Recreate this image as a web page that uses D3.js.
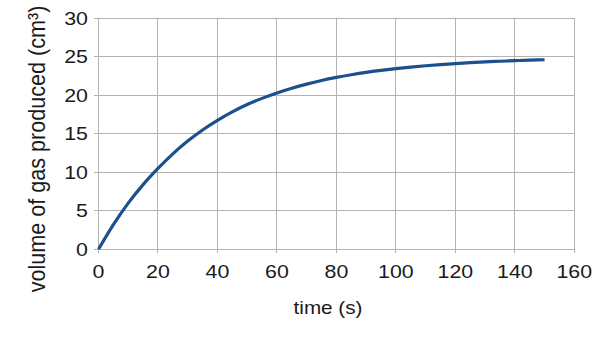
<!DOCTYPE html>
<html>
<head>
<meta charset="utf-8">
<script src="https://cdn.jsdelivr.net/npm/d3@7"></script>
<style>
  html, body { margin: 0; padding: 0; background: #ffffff; }
  svg { display: block; }
  text { font-family: "Liberation Sans", Arial, sans-serif; fill: #1a1a1a; }
</style>
</head>
<body>
<svg id="chart" width="605" height="340"></svg>
<script>
// Gas volume collected over time
const timeS = [0, 5, 10, 15, 20, 25, 30, 35, 40, 45, 50, 55, 60, 65, 70, 75,
               80, 85, 90, 95, 100, 105, 110, 115, 120, 125, 130, 135, 140, 145, 150];
const volumeCm3 = [0, 3.2, 6.0, 8.4, 10.5, 12.4, 14.05, 15.5, 16.75, 17.85, 18.8, 19.6, 20.3, 20.92, 21.45, 21.92,
                   22.32, 22.67, 22.98, 23.24, 23.47, 23.67, 23.84, 23.99, 24.12, 24.24, 24.34, 24.42, 24.5, 24.57, 24.62];
const xTicks = [0, 20, 40, 60, 80, 100, 120, 140, 160];
const yTicks = [0, 5, 10, 15, 20, 25, 30];
const xTitle = "time (s)";
const yTitle = "volume of gas produced (cm\u00B3)";

const svg = d3.select("#chart");
const plotLeft = 98.5, plotRight = 574.3, plotTop = 18.3, plotBottom = 249.3;
const x = d3.scaleLinear().domain([0, 160]).range([plotLeft, plotRight]);
const y = d3.scaleLinear().domain([0, 30]).range([plotBottom, plotTop]);
const gridColor = "#b3b3b3";
const textStretch = 1.22;

// vertical grid lines with tick stubs below the axis
svg.append("g").selectAll("line").data(xTicks).join("line")
  .attr("x1", d => x(d)).attr("x2", d => x(d))
  .attr("y1", plotTop).attr("y2", plotBottom + 4)
  .attr("stroke", gridColor).attr("stroke-width", 1)
  .attr("shape-rendering", "crispEdges");

// horizontal grid lines with tick stubs left of the axis
svg.append("g").selectAll("line").data(yTicks).join("line")
  .attr("x1", plotLeft - 5).attr("x2", plotRight)
  .attr("y1", d => y(d)).attr("y2", d => y(d))
  .attr("stroke", gridColor).attr("stroke-width", 1)
  .attr("shape-rendering", "crispEdges");

// y tick labels
svg.append("g").selectAll("g").data(yTicks).join("g")
  .attr("transform", d => `translate(88,${y(d)}) scale(${textStretch},1)`)
  .append("text")
  .attr("text-anchor", "end").attr("dy", "0.36em")
  .attr("font-size", 17.5)
  .text(d => d);

// x tick labels
svg.append("g").selectAll("g").data(xTicks).join("g")
  .attr("transform", d => `translate(${x(d)},278) scale(${textStretch},1)`)
  .append("text")
  .attr("text-anchor", "middle")
  .attr("font-size", 17.5)
  .text(d => d);

// axis titles
svg.append("g")
  .attr("transform", `translate(328,314) scale(1.15,1)`)
  .append("text").attr("text-anchor", "middle").attr("font-size", 18)
  .text(xTitle);

svg.append("g")
  .attr("transform", `translate(45,149) scale(1.1,1) rotate(-90)`)
  .append("text").attr("text-anchor", "middle").attr("font-size", 21.6)
  .text(yTitle);

// data curve
const line = d3.line()
  .x((d, i) => x(timeS[i]))
  .y(d => y(d))
  .curve(d3.curveMonotoneX);

svg.append("path")
  .datum(volumeCm3)
  .attr("d", line)
  .attr("fill", "none")
  .attr("stroke", "#1b4f8d")
  .attr("stroke-width", 3.2)
  .attr("stroke-linejoin", "round");
</script>
</body>
</html>
